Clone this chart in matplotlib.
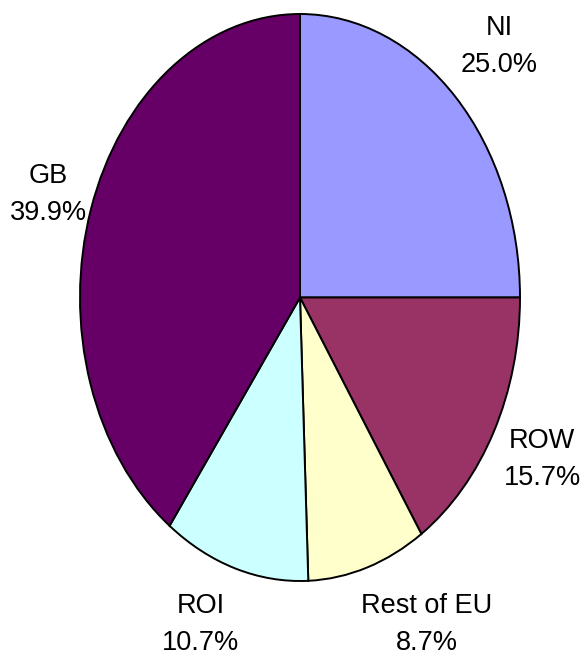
import matplotlib.pyplot as plt
import numpy as np

# Share of sales by destination (%)
regions = ['NI', 'ROW', 'Rest of EU', 'ROI', 'GB']
shares = [25.0, 15.7, 8.7, 10.7, 39.9]
colors = ['#9999FF', '#993366', '#FFFFCC', '#CCFFFF', '#660066']

# label block centres, in pie radius units
label_pos = [(0.905, 0.884), (1.10, -0.57), (0.577, -1.155),
             (-0.45, -1.155), (-1.145, 0.363)]

fig = plt.figure(figsize=(5.87, 6.63), dpi=100)
# stretched axes give the oval pie
ax = fig.add_axes([80 / 587, 82 / 663, 440 / 587, 567 / 663])

ax.pie(shares, colors=colors, startangle=90, counterclock=False,
       wedgeprops=dict(edgecolor='black', linewidth=1.4))
ax.set_aspect('auto')
ax.set_xlim(-1, 1)
ax.set_ylim(-1, 1)
ax.axis('off')

for name, val, (x, y) in zip(regions, shares, label_pos):
    ax.text(x, y, f'{name}\n{val:.1f}%', ha='center', va='center',
            multialignment='center', fontsize=19.5, linespacing=1.55,
            family=['Liberation Sans', 'DejaVu Sans'],
            clip_on=False)

fig.savefig('out.png', dpi=100)
